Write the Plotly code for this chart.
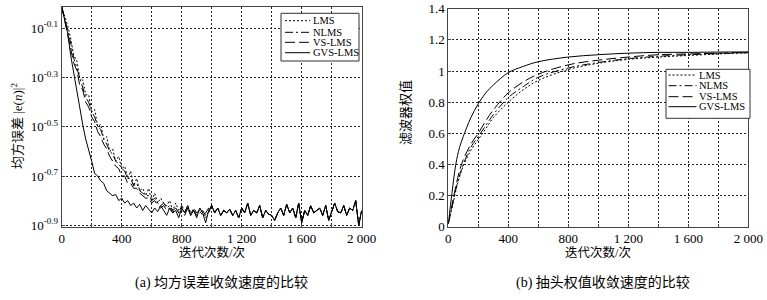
import plotly.graph_objects as go

# ---------------- data ----------------
# (a) MSE, stored as log10 exponents, sampled every 20 iterations
iters_a = list(range(0, 2001, 20))

gvs_head = [-0.012, -0.06, -0.12, -0.21, -0.28, -0.36, -0.42, -0.49, -0.55, -0.59,
            -0.64, -0.69, -0.70, -0.72, -0.73, -0.76, -0.77, -0.78, -0.775, -0.80,
            -0.79, -0.81, -0.80, -0.82, -0.81, -0.83, -0.815, -0.84, -0.82, -0.835,
            -0.85, -0.83, -0.845, -0.82, -0.84, -0.86, -0.83, -0.85, -0.84, -0.87,
            -0.83, -0.85, -0.82, -0.86, -0.84, -0.87, -0.83, -0.85, -0.89, -0.84]
floor_tail = [-0.82, -0.85, -0.83, -0.86, -0.84, -0.85, -0.835, -0.86, -0.84, -0.87,
              -0.83, -0.85, -0.81, -0.86, -0.84, -0.85, -0.82, -0.87, -0.84, -0.855,
              -0.86, -0.88, -0.85, -0.83, -0.86, -0.815, -0.85, -0.83, -0.87, -0.81,
              -0.89, -0.84, -0.86, -0.82, -0.85, -0.84, -0.83, -0.86, -0.82, -0.88,
              -0.84, -0.81, -0.845, -0.85, -0.82, -0.86, -0.83, -0.84, -0.80, -0.90,
              -0.84]
lms_head = [-0.012, -0.05, -0.09, -0.14, -0.21, -0.23, -0.30, -0.31, -0.37, -0.37,
            -0.44, -0.43, -0.50, -0.49, -0.55, -0.54, -0.60, -0.59, -0.64, -0.62,
            -0.67, -0.66, -0.71, -0.68, -0.74, -0.71, -0.76, -0.75, -0.78, -0.75,
            -0.80, -0.77, -0.81, -0.79, -0.81, -0.82, -0.80, -0.84, -0.81, -0.84,
            -0.83, -0.85, -0.82, -0.85, -0.84, -0.86, -0.83, -0.85, -0.87, -0.84]
nlms_head = [-0.012, -0.06, -0.10, -0.16, -0.22, -0.26, -0.31, -0.34, -0.38, -0.40,
             -0.44, -0.46, -0.50, -0.51, -0.55, -0.57, -0.60, -0.61, -0.64, -0.65,
             -0.67, -0.68, -0.71, -0.71, -0.74, -0.73, -0.76, -0.77, -0.78, -0.78,
             -0.80, -0.79, -0.81, -0.82, -0.81, -0.83, -0.82, -0.84, -0.83, -0.85,
             -0.82, -0.84, -0.83, -0.86, -0.83, -0.85, -0.84, -0.86, -0.85, -0.83]
vslms_head = [-0.012, -0.07, -0.12, -0.18, -0.24, -0.27, -0.33, -0.35, -0.40, -0.42,
              -0.46, -0.48, -0.52, -0.54, -0.57, -0.59, -0.62, -0.64, -0.66, -0.67,
              -0.70, -0.70, -0.73, -0.73, -0.75, -0.75, -0.77, -0.78, -0.79, -0.79,
              -0.81, -0.80, -0.82, -0.83, -0.82, -0.84, -0.83, -0.85, -0.83, -0.85,
              -0.84, -0.86, -0.83, -0.85, -0.84, -0.86, -0.85, -0.84, -0.86, -0.85]

# (b) tap weight
iters_b = [0, 25, 50, 75, 100, 150, 200, 250, 300, 400, 500, 600, 800, 1000, 1200, 1400, 1600, 1800, 2000]
w_gvs = [0.02, 0.22, 0.40, 0.51, 0.58, 0.70, 0.79, 0.86, 0.91, 0.99, 1.03, 1.06, 1.09, 1.105, 1.115, 1.12, 1.12, 1.122, 1.123]
w_vslms = [0.02, 0.14, 0.26, 0.36, 0.43, 0.53, 0.60, 0.68, 0.75, 0.86, 0.93, 0.98, 1.04, 1.07, 1.09, 1.105, 1.11, 1.115, 1.12]
w_nlms = [0.02, 0.13, 0.24, 0.33, 0.40, 0.51, 0.58, 0.65, 0.72, 0.83, 0.90, 0.96, 1.02, 1.055, 1.08, 1.095, 1.105, 1.112, 1.118]
w_lms = [0.02, 0.12, 0.23, 0.32, 0.39, 0.49, 0.56, 0.63, 0.70, 0.80, 0.88, 0.94, 1.01, 1.05, 1.075, 1.09, 1.10, 1.11, 1.117]

names = ["LMS", "NLMS", "VS-LMS", "GVS-LMS"]
dashes = ["2px,2px", "8px,3px,2px,3px", "10px,4px", "solid"]

x_ticks = [0, 400, 800, 1200, 1600, 2000]
x_ticktext = ["0", "400", "800", "1 200", "1 600", "2 000"]
ya_exp = [-0.1, -0.3, -0.5, -0.7, -0.9]
ya_text = ["10<sup>-0.1</sup>", "10<sup>-0.3</sup>", "10<sup>-0.5</sup>", "10<sup>-0.7</sup>", "10<sup>-0.9</sup>"]
yb_ticks = [0, 0.2, 0.4, 0.6, 0.8, 1.0, 1.2, 1.4]
yb_text = ["0", "0.2", "0.4", "0.6", "0.8", "1", "1.2", "1.4"]

# ---------------- figure ----------------
W, H = 767, 300
FONT = "Liberation Serif, Noto Sans CJK SC, serif"
def px(x): return x / W
def py(y): return 1 - y / H

fig = go.Figure()
series_a = [lms_head + floor_tail, nlms_head + floor_tail, vslms_head + floor_tail, gvs_head + floor_tail]
for nm, ds, vals in zip(names, dashes, series_a):
    fig.add_trace(go.Scatter(x=iters_a, y=[10 ** v for v in vals], mode="lines", name=nm,
                             line=dict(color="black", width=1, dash=ds), xaxis="x", yaxis="y",
                             showlegend=False))
series_b = [w_lms, w_nlms, w_vslms, w_gvs]
for nm, ds, vals in zip(names, dashes, series_b):
    fig.add_trace(go.Scatter(x=iters_b, y=vals, mode="lines", name=nm, line_shape="spline",
                             line=dict(color="black", width=1, dash=ds), xaxis="x2", yaxis="y2",
                             showlegend=False))

gridstyle = dict(gridcolor="#222", gridwidth=1, griddash="2px,2px")
common = dict(showgrid=True, showline=True, linecolor="#444", linewidth=1, mirror=True,
              ticks="inside", ticklen=3, tickcolor="#444", zeroline=False, automargin=False,
              tickfont=dict(family=FONT, size=13, color="black"), **gridstyle)
xminor = dict(dtick=200, showgrid=True, ticks="inside", ticklen=3, tickcolor="#444", **gridstyle)

fig.update_layout(
    template="none",
    width=W, height=H, autosize=False,
    margin=dict(l=0, r=0, t=0, b=0, pad=0, autoexpand=False),
    paper_bgcolor="white", plot_bgcolor="white",
    font=dict(family=FONT, color="black"),
    xaxis=dict(domain=[px(61.7), px(361.7)], range=[0, 2000], anchor="y",
               tickvals=x_ticks, ticktext=x_ticktext, minor=xminor, **common),
    yaxis=dict(domain=[py(226.7), py(6.7)], type="log", range=[-0.906, -0.012], anchor="x",
               tickvals=[10 ** e for e in ya_exp], ticktext=ya_text, **common),
    xaxis2=dict(domain=[px(448.3), px(748.3)], range=[0, 2000], anchor="y2",
                tickvals=x_ticks, ticktext=x_ticktext, minor=xminor, **common),
    yaxis2=dict(domain=[py(226.7), py(8.8)], range=[0, 1.4], anchor="x2",
                tickvals=yb_ticks, ticktext=yb_text, **common),
)

ann = []
shapes = []
def text(x, y, s, size, **kw):
    d = dict(x=px(x), y=py(y), text=s, showarrow=False, xref="paper", yref="paper",
             xanchor="center", yanchor="middle", font=dict(size=size, family=FONT, color="black"))
    d.update(kw)
    ann.append(d)

text(211.7, 252.5, "迭代次数/次", 12.5)
text(598.3, 252.5, "迭代次数/次", 12.5)
text(221, 283, "(a) 均方误差收敛速度的比较", 14)
text(603, 283, "(b) 抽头权值收敛速度的比较", 14)
text(17, 126, "均方误差 |e(<i>n</i>)|<sup>2</sup>", 13, textangle=-90)
text(406, 112, "滤波器权值", 13, textangle=-90)

# manual legends
def legend(x0, y0, x1, y1, rows, lx0, lx1):
    shapes.append(dict(type="rect", xref="paper", yref="paper", x0=px(x0), x1=px(x1), y0=py(y0), y1=py(y1),
                       line=dict(color="#333", width=1), fillcolor="white", layer="above"))
    for nm, ds, yy in zip(names, dashes, rows):
        shapes.append(dict(type="line", xref="paper", yref="paper", x0=px(lx0), x1=px(lx1), y0=py(yy), y1=py(yy),
                           line=dict(color="black", width=1, dash=ds), layer="above"))
        text(lx1 + 0.5, yy, nm, 10.5, xanchor="left")

legend(281, 13.3, 359, 61, [20.7, 32.3, 42.3, 52.7], 285, 310)
legend(666, 69.3, 750, 118.3, [75, 85.7, 96.7, 106.7], 668.5, 696.5)

fig.update_layout(annotations=ann, shapes=shapes)
fig.write_html(
    "out.html",
    config={"displayModeBar": False, "responsive": False},
    post_script=("document.documentElement.style.margin='0';document.body.style.margin='0';"
                 "document.documentElement.style.overflow='hidden';document.body.style.overflow='hidden';"
                 "var d=document.getElementById('{plot_id}');d.style.position='fixed';"
                 "d.style.top='0px';d.style.left='0px';"),
)
